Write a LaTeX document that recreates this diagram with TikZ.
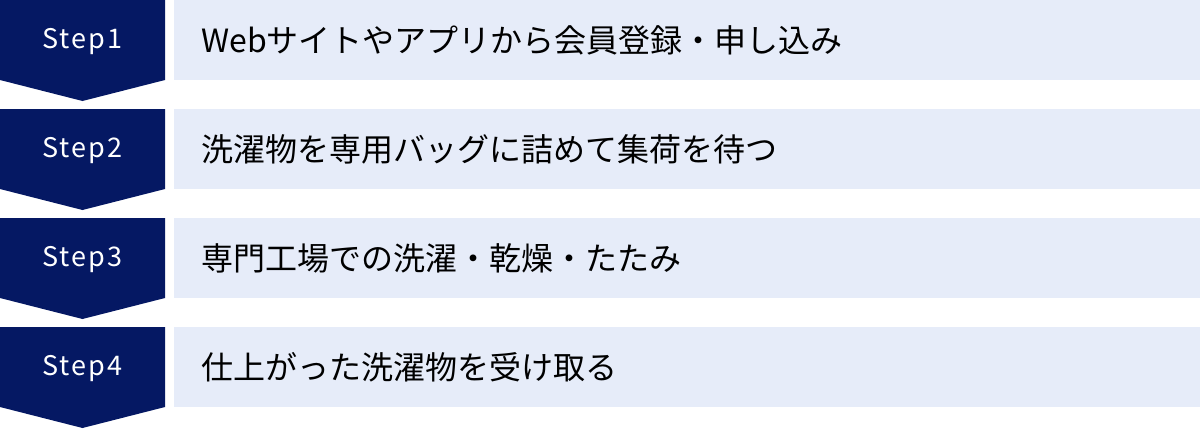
\documentclass[tikz,border=0pt]{standalone}
\usepackage{fontspec}
\setmainfont{Noto Sans CJK JP}
\newfontfamily\stepfont[LetterSpace=8]{Noto Sans CJK JP}
\definecolor{stepnavy}{RGB}{5,24,99}
\definecolor{rowblue}{RGB}{230,236,249}

\begin{document}
\begin{tikzpicture}[x=1pt, y=-1pt,
        stepshape/.style={fill=stepnavy},
        steplabel/.style={text=white, font=\stepfont\fontsize{27}{31}\selectfont, inner sep=0pt},
        rowtext/.style={anchor=west, text=black, font=\fontsize{32}{36}\selectfont, inner sep=0pt}]
        \useasboundingbox (0,0) rectangle (1200,429);

        % left arrows
        \fill[stepshape] (0,0) -- (165,0) -- (165,80) -- (82.5,101) -- (0,80) -- cycle;
        \fill[stepshape] (0,109) -- (165,109) -- (165,189) -- (82.5,210) -- (0,189) -- cycle;
        \fill[stepshape] (0,218) -- (165,218) -- (165,298) -- (82.5,319) -- (0,298) -- cycle;
        \fill[stepshape] (0,327) -- (165,327) -- (165,407) -- (82.5,428) -- (0,407) -- cycle;

        % right bars
        \fill[rowblue] (174,0) rectangle (1200,80);
        \fill[rowblue] (174,109) rectangle (1200,189);
        \fill[rowblue] (174,218) rectangle (1200,298);
        \fill[rowblue] (174,327) rectangle (1200,407);

        \node[steplabel] (step1) at (82.5,42) {Step1};
        \node[steplabel] (step2) at (82.5,151) {Step2};
        \node[steplabel] (step3) at (82.5,260) {Step3};
        \node[steplabel] (step4) at (82.5,369) {Step4};

        \node[rowtext] (text1) at (201,40) {Webサイトやアプリから会員登録・申し込み};
        \node[rowtext] (text2) at (201,149) {洗濯物を専用バッグに詰めて集荷を待つ};
        \node[rowtext] (text3) at (201,258) {専門工場での洗濯・乾燥・たたみ};
        \node[rowtext] (text4) at (201,367) {仕上がった洗濯物を受け取る};
    \end{tikzpicture}
\end{document}
